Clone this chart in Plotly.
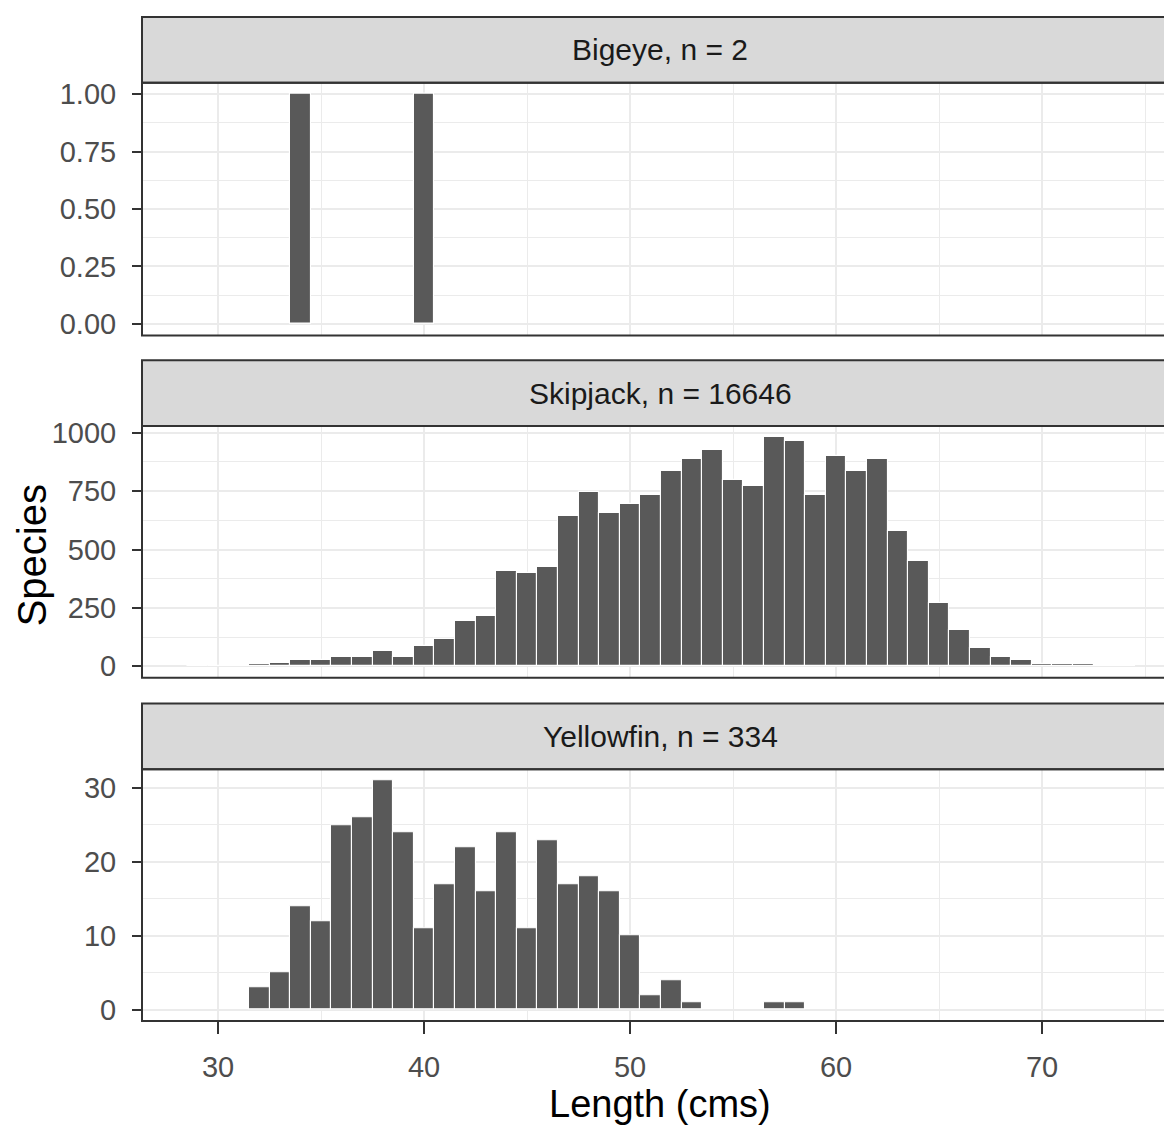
import plotly.graph_objects as go

# ---------------- data ----------------
bigeye_len = [34, 40]
bigeye_cnt = [1, 1]

skipjack_len = list(range(29, 75))
skipjack_cnt = [3, 0, 5, 12, 14, 26, 26, 38, 38, 65,
                38, 88, 115, 192, 217, 409, 399, 425, 643, 747,
                656, 694, 733, 838, 888, 926, 798, 773, 980, 966,
                734, 902, 838, 888, 581, 452, 271, 155, 77, 38,
                27, 8, 8, 8, 7, 4]

yellowfin_len = [32, 33, 34, 35, 36, 37, 38, 39, 40, 41, 42, 43, 44, 45,
                 46, 47, 48, 49, 50, 51, 52, 53, 57, 58]
yellowfin_cnt = [3, 5, 14, 12, 25, 26, 31, 24, 11, 17, 22, 16, 24, 11,
                 23, 17, 18, 16, 10, 2, 4, 1, 1, 1]

strip_labels = ["Bigeye, n = 2", "Skipjack, n = 16646", "Yellowfin, n = 334"]

x_ticks = [30, 40, 50, 60, 70]
x_minor = [35, 45, 55, 65, 75]

big_ticks = [0, 0.25, 0.5, 0.75, 1.0]
big_ticktext = ["0.00", "0.25", "0.50", "0.75", "1.00"]
big_minor = [0.125, 0.375, 0.625, 0.875]
skip_ticks = [0, 250, 500, 750, 1000]
skip_minor = [125, 375, 625, 875]
yel_ticks = [0, 10, 20, 30]
yel_minor = [5, 15, 25]

x_title = "Length (cms)"
y_title = "Species"

# ---------------- layout geometry ----------------
OFF = 8                       # page body margin
PAGE_W, PAGE_H = 1172, 1130
W, H = PAGE_W - OFF, PAGE_H - OFF
P_LEFT, P_TOP, P_BOT = 142, 12, 1021   # page pixel positions
ML = P_LEFT - OFF
MT = P_TOP - OFF
MB = H - (P_BOT - OFF)
ph = P_BOT - P_TOP

def py(y):                    # page y -> paper
    return (P_BOT - y) / ph

def px(x):                    # page x -> paper
    return (x - P_LEFT) / (PAGE_W - P_LEFT)

# strip top, strip bottom/panel top, panel bottom (page pixels)
blocks = [(12, 78, 332), (357, 423, 676), (702, 768, 1021)]

FONT = "Liberation Sans, Arial, Helvetica, sans-serif"
BAR = "#595959"
GRID = "#EBEBEB"
FRAME = "#333333"

fig = go.Figure()

series = [(bigeye_len, bigeye_cnt), (skipjack_len, skipjack_cnt), (yellowfin_len, yellowfin_cnt)]
axis_ids = ["3", "2", ""]
for (xs, ys), aid in zip(series, axis_ids):
    fig.add_trace(go.Bar(
        x=xs, y=ys, width=1,
        marker=dict(color=BAR, line=dict(color="white", width=1.1)),
        xaxis="x" + aid, yaxis="y" + aid, showlegend=False,
        hoverinfo="x+y",
    ))

xr = [26.31, 76.31]
common_x = dict(range=xr, showgrid=True, gridcolor=GRID, gridwidth=2,
                tickvals=x_ticks, zeroline=False, showline=False,
                minor=dict(tickvals=x_minor, showgrid=True, gridcolor=GRID, gridwidth=1, ticks=""))

def yax(domain, rng, tv, tt, mv):
    return dict(domain=domain, range=rng, tickvals=tv, ticktext=tt,
                showgrid=True, gridcolor=GRID, gridwidth=2, zeroline=False, showline=False,
                ticks="outside", ticklen=9, tickwidth=2, tickcolor=FRAME,
                tickfont=dict(family=FONT, size=29, color="#4D4D4D"),
                ticklabelstandoff=10,
                minor=dict(tickvals=mv, showgrid=True, gridcolor=GRID, gridwidth=1, ticks=""))

d_big = [py(blocks[0][2]), py(blocks[0][1])]
d_skip = [py(blocks[1][2]), py(blocks[1][1])]
d_yel = [py(blocks[2][2]), py(blocks[2][1])]

fig.update_layout(
    width=W, height=H,
    margin=dict(l=ML, r=0, t=MT, b=MB),
    paper_bgcolor="white", plot_bgcolor="white",
    bargap=0,
    xaxis=dict(**common_x, anchor="y", ticks="outside", ticklen=12, tickwidth=2,
               tickcolor=FRAME, ticklabelstandoff=8,
               tickfont=dict(family=FONT, size=29, color="#4D4D4D")),
    xaxis2=dict(**common_x, anchor="y2", matches="x", showticklabels=False, ticks=""),
    xaxis3=dict(**common_x, anchor="y3", matches="x", showticklabels=False, ticks=""),
    yaxis=yax(d_yel, [-1.55, 32.55], yel_ticks, [str(v) for v in yel_ticks], yel_minor),
    yaxis2=yax(d_skip, [-49, 1029], skip_ticks, [str(v) for v in skip_ticks], skip_minor),
    yaxis3=yax(d_big, [-0.05, 1.05], big_ticks, big_ticktext, big_minor),
)

shapes = []
annotations = []
for (st, pt, pb), lab in zip(blocks, strip_labels):
    shapes.append(dict(type="rect", xref="paper", yref="paper",
                       x0=0, x1=1.05, y0=py(pt), y1=py(st),
                       fillcolor="#D9D9D9", line=dict(color=FRAME, width=2), layer="above"))
    shapes.append(dict(type="rect", xref="paper", yref="paper",
                       x0=0, x1=1.05, y0=py(pb), y1=py(pt),
                       fillcolor="rgba(0,0,0,0)", line=dict(color=FRAME, width=2), layer="above"))
    annotations.append(dict(text=lab, xref="paper", yref="paper",
                            x=px(660), y=py((st + pt) / 2), xanchor="center", yanchor="middle",
                            showarrow=False, font=dict(family=FONT, size=30, color="#1A1A1A")))

annotations.append(dict(text=x_title, xref="paper", yref="paper", x=px(660), y=py(1104),
                        xanchor="center", yanchor="middle", showarrow=False,
                        font=dict(family=FONT, size=38, color="black")))
annotations.append(dict(text=y_title, xref="paper", yref="paper", x=px(32), y=py(553),
                        xanchor="center", yanchor="middle", showarrow=False, textangle=-90,
                        font=dict(family=FONT, size=40, color="black")))

fig.update_layout(shapes=shapes, annotations=annotations)

fig.write_html("out.html")
